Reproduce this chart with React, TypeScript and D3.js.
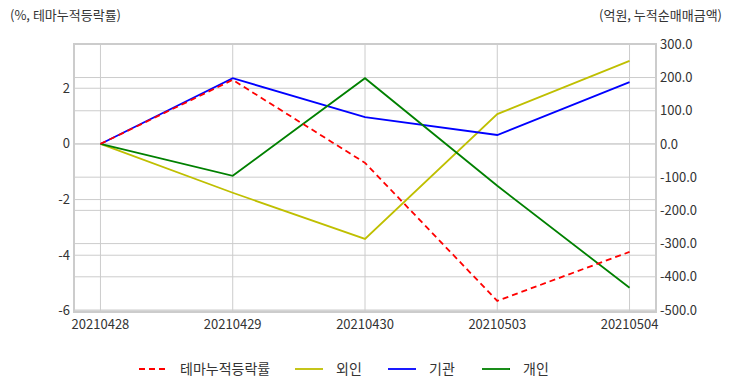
import React from "react";
import * as d3 from "d3";

const dates = ["20210428", "20210429", "20210430", "20210503", "20210504"];
const themeReturn = [0, 2.3, -0.68, -5.64, -3.88];
const foreign = [0, -147, -286, 90, 250];
const institution = [0, 198, 81, 27, 186];
const individual = [0, -96, 198, -126, -433];

const leftTicks = [2, 0, -2, -4, -6];
const rightTicks = [300, 200, 100, 0, -100, -200, -300, -400, -500];

const W = 732;
const H = 392;
const margin = { top: 44, right: 76, bottom: 80, left: 74 };
const font = "'Noto Sans CJK KR', 'Noto Sans', sans-serif";

const App = () => {
  const width = W - margin.left - margin.right;
  const height = H - margin.top - margin.bottom;

  const x = d3
    .scalePoint<string>()
    .domain(dates)
    .range([0, width])
    .padding(0.2);
  const yLeft = d3.scaleLinear().domain([-6.04, 3.59]).range([height, 0]);
  const yRight = d3.scaleLinear().domain([-506, 301]).range([height, 0]);

  const lineLeft = d3
    .line<number>()
    .x((d, i) => x(dates[i])!)
    .y((d) => yLeft(d));
  const lineRight = d3
    .line<number>()
    .x((d, i) => x(dates[i])!)
    .y((d) => yRight(d));

  const series = [
    { name: "외인", data: foreign, color: "#bfbf00" },
    { name: "기관", data: institution, color: "#0000ff" },
    { name: "개인", data: individual, color: "#008000" },
  ];

  const legend = [
    { name: "테마누적등락률", color: "#ff0000", dash: "6,4", x: 139 },
    { name: "외인", color: "#bfbf00", dash: null, x: 295 },
    { name: "기관", color: "#0000ff", dash: null, x: 388 },
    { name: "개인", color: "#008000", dash: null, x: 482 },
  ];

  return (
    <svg
      width={W}
      height={H}
      style={{ position: "absolute", left: 0, top: 0, background: "#fff" }}
      fontFamily={font}
    >
      <text x={10} y={20} fontSize={13} fill="#333">
        (%, 테마누적등락률)
      </text>
      <text x={722} y={20} fontSize={13} fill="#333" textAnchor="end">
        (억원, 누적순매매금액)
      </text>
      <g transform={`translate(${margin.left},${margin.top})`}>
        {/* grid */}
        {dates.map((d) => (
          <line
            key={d}
            x1={x(d)}
            x2={x(d)}
            y1={0}
            y2={height}
            stroke="#cccccc"
            strokeWidth={1}
          />
        ))}
        {leftTicks.map((t) => (
          <line
            key={"l" + t}
            x1={0}
            x2={width}
            y1={yLeft(t)}
            y2={yLeft(t)}
            stroke="#cccccc"
            strokeWidth={1}
          />
        ))}
        {rightTicks.map((t) => (
          <line
            key={"r" + t}
            x1={0}
            x2={width}
            y1={yRight(t)}
            y2={yRight(t)}
            stroke="#cccccc"
            strokeWidth={1}
          />
        ))}
        <rect
          x={0}
          y={0}
          width={width}
          height={height}
          fill="none"
          stroke="#cccccc"
          strokeWidth={2}
        />

        {/* lines */}
        {series.map((s) => (
          <path
            key={s.name}
            d={lineRight(s.data) || ""}
            fill="none"
            stroke={s.color}
            strokeWidth={1.8}
          />
        ))}
        <path
          d={lineLeft(themeReturn) || ""}
          fill="none"
          stroke="#ff0000"
          strokeWidth={1.8}
          strokeDasharray="6,4"
        />

        {/* axes labels */}
        {leftTicks.map((t) => (
          <text
            key={"lt" + t}
            x={-4}
            y={yLeft(t)}
            dy="0.35em"
            fontSize={13}
            fill="#333"
            textAnchor="end"
          >
            {t}
          </text>
        ))}
        {rightTicks.map((t) => (
          <text
            key={"rt" + t}
            x={width + 4}
            y={yRight(t)}
            dy="0.35em"
            fontSize={13}
            fill="#333"
          >
            {t.toFixed(1)}
          </text>
        ))}
        {dates.map((d) => (
          <text
            key={"xt" + d}
            x={x(d)}
            y={height + 17}
            fontSize={13}
            fill="#333"
            textAnchor="middle"
          >
            {d}
          </text>
        ))}
      </g>

      {/* legend */}
      {legend.map((l) => (
        <g key={l.name} transform={`translate(${l.x},369)`}>
          <line
            x1={0}
            x2={28}
            y1={0}
            y2={0}
            stroke={l.color}
            strokeWidth={1.8}
            strokeDasharray={l.dash || undefined}
          />
          <text x={41} y={0} dy="0.35em" fontSize={14} fill="#333">
            {l.name}
          </text>
        </g>
      ))}
    </svg>
  );
};

export default App;
